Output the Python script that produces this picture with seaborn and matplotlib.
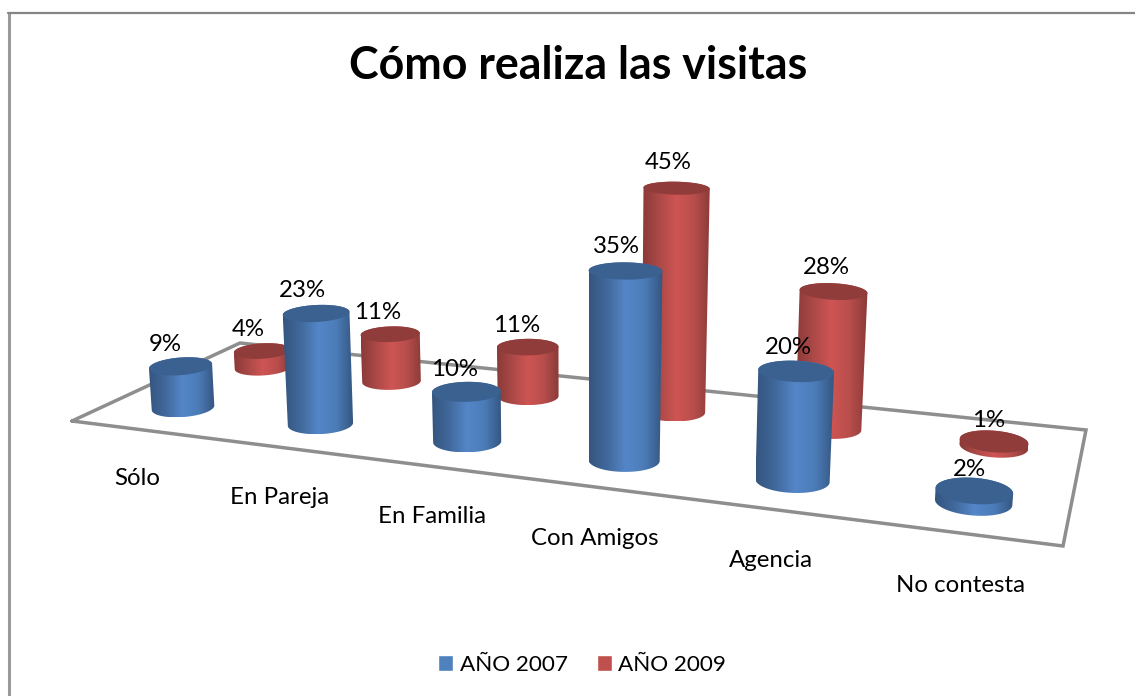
import matplotlib
matplotlib.use("Agg")
import matplotlib.pyplot as plt
import numpy as np
import pandas as pd
import seaborn as sns
from matplotlib.patches import PathPatch, Polygon
from matplotlib.path import Path

categories = ["Sólo", "En Pareja", "En Familia", "Con Amigos", "Agencia", "No contesta"]
series_names = ["AÑO 2007", "AÑO 2009"]
values_2007 = [9, 23, 10, 35, 20, 2]
values_2009 = [4, 11, 11, 45, 28, 1]

W, H = 1135, 696

# floor corners on the canvas: front left, front right, back right, back left
FLOOR = [(72, 421), (1063, 546), (1086, 430), (240, 343)]
DEPTH = [0.24, 0.74]
HORIZON = 8          # everything on the floor scales with distance below this line
WIDTH_K = 0.157      # cylinder width per px below the horizon
HEIGHT_K = 0.0115    # px of height per percent per px below the horizon
LEAN_POINT = (579, 7000)

sns.set_theme(style="white")
plt.rcParams["font.family"] = ["Lato", "DejaVu Sans"]


def floor_matrix(corners):
    """Homography from (u, v) in [0, 6] x [0, 1] to canvas pixels."""
    src = [(0, 0), (6, 0), (6, 1), (0, 1)]
    rows, rhs = [], []
    for (u, v), (x, y) in zip(src, corners):
        rows.append([u, v, 1, 0, 0, 0, -u * x, -v * x])
        rows.append([0, 0, 0, u, v, 1, -u * y, -v * y])
        rhs += [x, y]
    return np.append(np.linalg.solve(np.array(rows, float), rhs), 1).reshape(3, 3)


M = floor_matrix(FLOOR)


def project(u, v):
    p = M @ np.array([u, v, 1.0])
    return p[0] / p[2], p[1] / p[2]


def ellipse(cx, cy, half_w):
    # flatter higher up the picture, tilted away from the middle
    half_h = half_w * (0.20 + 0.00046 * (cy - 197))
    phi = np.radians((cx - 570) * 0.0115)
    t = np.linspace(0, 2 * np.pi, 120)
    ex, ey = half_w * np.cos(t), half_h * np.sin(t)
    return (cx + ex * np.cos(phi) - ey * np.sin(phi),
            cy + ex * np.sin(phi) + ey * np.cos(phi),
            half_h)


def hull(points):
    pts = sorted(map(tuple, points))

    def half(seq):
        out = []
        for p in seq:
            while len(out) > 1:
                a, b = np.subtract(out[-1], out[-2]), np.subtract(p, out[-2])
                if a[0] * b[1] - a[1] * b[0] > 0:
                    break
                out.pop()
            out.append(p)
        return out[:-1]

    return half(pts) + half(pts[::-1])


def draw_cylinder(ax, u, v, value, side_cmap, cap_color, z):
    x0, y0 = project(u, v)
    scale = y0 - HORIZON
    rise = HEIGHT_K * scale * value
    # tall columns stretch a little towards the camera
    rise = rise * (1 + 0.065 * (rise / 205) ** 4)
    x1 = x0 + (x0 - LEAN_POINT[0]) / (LEAN_POINT[1] - y0) * rise
    y1 = y0 - rise
    half_w = WIDTH_K * scale / 2
    bx, by, _ = ellipse(x0, y0, half_w)
    tx, ty, half_h = ellipse(x1, y1, half_w * (1 + 0.03 * rise / 150))
    outline = hull(np.r_[np.c_[bx, by], np.c_[tx, ty]])
    clip = PathPatch(Path(outline + [outline[0]]), transform=ax.transData)
    xs, ys = zip(*outline)
    im = ax.imshow(np.linspace(0, 1, 256)[None, :], cmap=side_cmap, aspect="auto",
                   extent=(min(xs), max(xs), max(ys), min(ys)), zorder=z)
    im.set_clip_path(clip)
    ax.add_patch(Polygon(np.c_[tx, ty], closed=True, fc=cap_color, ec="none", zorder=z + 0.5))
    return x1, y1 - half_h


fig = plt.figure(figsize=(W / 100, H / 100), dpi=100, facecolor="white")

# seaborn builds the bars; their heights and colours feed the 3D cylinders
df = pd.DataFrame({
    "categoria": categories * 2,
    "serie": np.repeat(series_names, len(categories)),
    "valor": values_2007 + values_2009,
})
palette = sns.color_palette(["#4F81BD", "#C0504D"])
ax_bars = fig.add_axes([0, 0, 1, 1])
sns.barplot(data=df, x="categoria", y="valor", hue="serie", palette=palette,
            saturation=1, ax=ax_bars)
handles, labels = ax_bars.get_legend_handles_labels()
bar_heights = [[b.get_height() for b in cont] for cont in ax_bars.containers]
ax_bars.get_legend().remove()
ax_bars.set_visible(False)

ax = fig.add_axes([0, 0, 1, 1])
ax.axis("off")

ax.plot([9.2, 9.2], [13, H], color="#9A9A9A", lw=2.2, zorder=1)
ax.plot([8, W], [13.2, 13.2], color="#858585", lw=1.6, zorder=1)
floor_x, floor_y = zip(*(FLOOR + FLOOR[:1]))
ax.plot(floor_x, floor_y, color="#8E8E8E", lw=2.5, solid_joinstyle="miter", zorder=2)

cmaps = [
    sns.blend_palette(["#34557F", "#41699C", "#5486C8", "#4C7CB8", "#34557F"], as_cmap=True),
    sns.blend_palette(["#8A3A38", "#AB4947", "#CE5553", "#B84E4C", "#8A3A38"], as_cmap=True),
]
caps = ["#3A618F", "#8F3C3A"]

label_pts = []
z = 3
for j in [1, 0]:
    for i, value in enumerate(bar_heights[j]):
        top_x, top_y = draw_cylinder(ax, i + 0.5, DEPTH[j], value, cmaps[j], caps[j], z)
        label_pts.append((top_x, top_y, value))
        z += 1

for top_x, top_y, value in label_pts:
    gap = 19 - (top_y - 183) * 0.035
    ax.text(top_x - 17 + 0.012 * top_x, top_y - gap, f"{value:.0f}%", ha="center", va="center",
            fontsize=17.3, color="black", zorder=50)

for i, name in enumerate(categories):
    fx, fy = project(i + 0.5, 0.0)
    ax.text(fx - 2, fy + 49 + 0.6 * i, name, ha="center", va="center", fontsize=17.3,
            color="black", zorder=50)

ax.text(578, 66, "Cómo realiza las visitas", ha="center", va="center", fontsize=32.2,
        fontweight="bold", color="black", zorder=50)

ax.set_xlim(0, W)
ax.set_ylim(H, 0)

fig.legend(handles, labels, loc="center", bbox_to_anchor=(582 / W, 1 - 665 / H), ncol=2,
           frameon=False, fontsize=16.2, handlelength=0.667, handleheight=0.667,
           handletextpad=0.3, columnspacing=1.29, borderpad=0, labelcolor="black")

fig.savefig("out.png", dpi=100)
